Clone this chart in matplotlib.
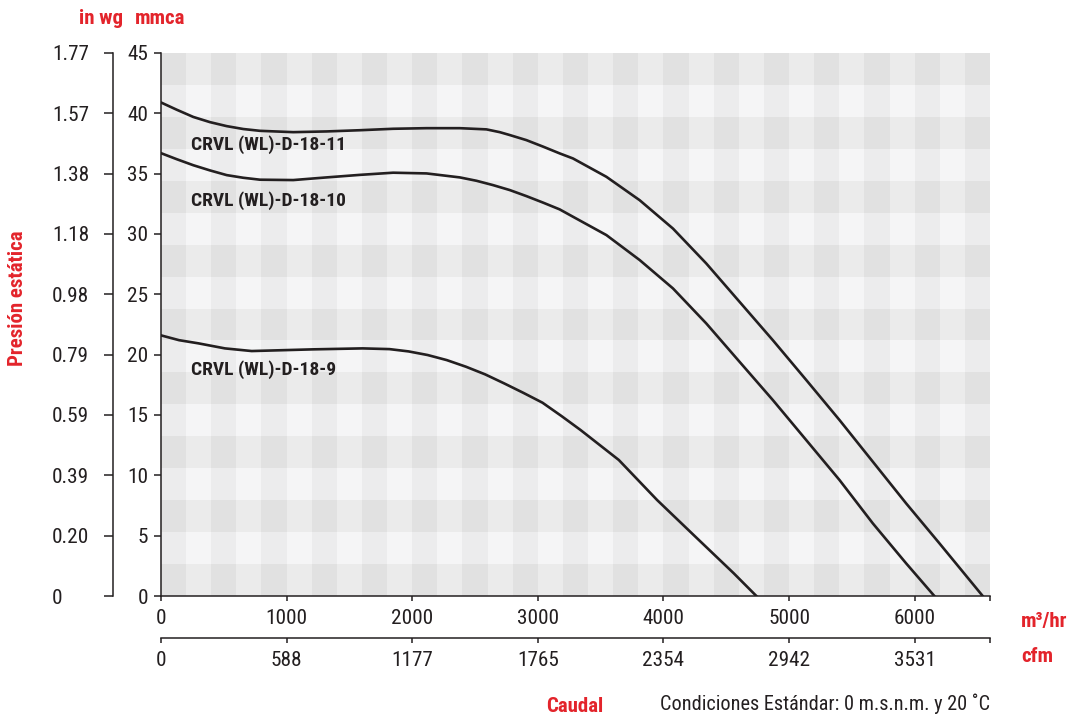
import numpy as np
import matplotlib
matplotlib.use("Agg")
import matplotlib.pyplot as plt
from matplotlib import font_manager as fm

# fuente estrecha si existe
fuentes = fm.fontManager.ttflist
nombres = {f.name for f in fuentes}
ESTIRA = 'normal'
K = 1.0
if 'Roboto Condensed' in nombres:
    FAM = 'Roboto Condensed'
elif 'Liberation Sans Narrow' in nombres:
    FAM = 'Liberation Sans Narrow'
elif any(f.name == 'DejaVu Sans' and f.stretch == 'condensed' for f in fuentes):
    FAM = 'DejaVu Sans'
    ESTIRA = 'condensed'
    K = 0.9
else:
    FAM = 'DejaVu Sans'
    K = 0.76
plt.rcParams['font.family'] = [FAM, 'DejaVu Sans']
plt.rcParams['font.stretch'] = ESTIRA

# caudal (m3/hr) y presion (mmca)
x_d18_11 = [0, 125, 257, 390, 523, 655, 788, 1053, 1318, 1583, 1848, 2114, 2379, 2591,
            2697, 2777, 2909, 3042, 3174, 3280, 3546, 3811, 4076, 4341, 4606, 4871,
            5137, 5402, 5667, 5932, 6197, 6542]
y_d18_11 = [40.9, 40.3, 39.7, 39.27, 38.94, 38.7, 38.55, 38.44, 38.5, 38.6, 38.72, 38.77,
            38.77, 38.67, 38.44, 38.2, 37.78, 37.24, 36.68, 36.26, 34.74, 32.8, 30.45,
            27.56, 24.38, 21.2, 17.9, 14.58, 11.13, 7.68, 4.37, 0]

x_d18_10 = [0, 125, 257, 390, 523, 655, 788, 1053, 1318, 1583, 1848, 2114, 2379, 2512,
            2644, 2777, 2909, 3042, 3174, 3280, 3546, 3811, 4076, 4341, 4606, 4871,
            5137, 5402, 5667, 5932, 6157]
y_d18_10 = [36.7, 36.2, 35.7, 35.27, 34.88, 34.66, 34.5, 34.47, 34.69, 34.9, 35.08, 35.02,
            34.69, 34.41, 34.05, 33.64, 33.14, 32.6, 32.04, 31.43, 29.91, 27.84, 25.49,
            22.59, 19.41, 16.24, 12.92, 9.61, 6.02, 2.71, 0]

x_d18_9 = [0, 144, 297, 509, 722, 1210, 1605, 1819, 1971, 2123, 2275, 2428, 2580, 2732,
           2884, 3037, 3189, 3341, 3493, 3645, 3950, 4255, 4560, 4740]
y_d18_9 = [21.6, 21.2, 20.94, 20.52, 20.3, 20.44, 20.52, 20.46, 20.27, 19.97, 19.55, 19.0,
           18.37, 17.62, 16.84, 16.02, 14.91, 13.75, 12.51, 11.27, 7.95, 4.91, 1.88, 0]

curvas = ["CRVL (WL)-D-18-11", "CRVL (WL)-D-18-10", "CRVL (WL)-D-18-9"]
pos_etiquetas = [(240, 37.4), (240, 32.8), (240, 18.8)]

mmca_ticks = [0, 5, 10, 15, 20, 25, 30, 35, 40, 45]
inwg_labels = ["0", "0.20", "0.39", "0.59", "0.79", "0.98", "1.18", "1.38", "1.57", "1.77"]
m3hr_ticks = [0, 1000, 2000, 3000, 4000, 5000, 6000]
cfm_labels = ["0", "588", "1177", "1765", "2354", "2942", "3531"]

ROJO = '#e3242b'
NEGRO = '#231f20'
XMAX = 6600
YMAX = 45
FS = 15.3 * K

W, H = 1068, 717
fig = plt.figure(figsize=(W / 100, H / 100), dpi=100)
ax = fig.add_axes([161 / W, 1 - 596 / H, (990 - 161) / W, (596 - 53) / H])

# fondo a cuadros
xe = np.linspace(0, XMAX, 34)
ye = np.linspace(0, YMAX, 18)
fila = (16 - np.arange(17))[:, None] % 2
col = np.arange(33)[None, :] % 2
tonos = np.array([[0xe1, 0xeb], [0xec, 0xf5]]) / 255.0
g = tonos[fila, col]
rgb = np.dstack([g, g, g + 0.003 * fila])
ax.pcolormesh(xe, ye, np.clip(rgb, 0, 1), shading='flat', zorder=0)

for xs, ys in [(x_d18_11, y_d18_11), (x_d18_10, y_d18_10), (x_d18_9, y_d18_9)]:
    ax.plot(xs, ys, color=NEGRO, lw=1.9, zorder=3, solid_joinstyle='round')

for nombre, (px, py) in zip(curvas, pos_etiquetas):
    ax.text(px, py, nombre, fontsize=14 * K, fontweight='bold', color=NEGRO,
            va='center', ha='left', zorder=4)

ax.set_xlim(0, XMAX)
ax.set_ylim(0, YMAX)
for s in ['top', 'right']:
    ax.spines[s].set_visible(False)
for s in ['left', 'bottom']:
    ax.spines[s].set_color(NEGRO)
    ax.spines[s].set_linewidth(1.1)
ax.set_yticks(mmca_ticks)
ax.set_xticks(m3hr_ticks + [XMAX])
ax.set_xticklabels([str(v) for v in m3hr_ticks] + [''])
ax.tick_params(axis='y', length=5, width=1.1, color=NEGRO, labelsize=FS,
               labelcolor=NEGRO, pad=4)
ax.tick_params(axis='x', length=3.6, width=1.1, color=NEGRO, labelsize=FS,
               labelcolor=NEGRO, pad=6)

# eje in wg
ay2 = ax.twinx()
ay2.set_ylim(0, YMAX)
ay2.yaxis.set_ticks_position('left')
ay2.spines['left'].set_position(('outward', 34.6))
for s in ['top', 'right', 'bottom']:
    ay2.spines[s].set_visible(False)
ay2.spines['left'].set_color(NEGRO)
ay2.spines['left'].set_linewidth(1.1)
ay2.set_yticks(mmca_ticks)
ay2.set_yticklabels(inwg_labels)
ay2.tick_params(axis='y', length=6.5, width=1.1, color=NEGRO, labelsize=FS,
                labelcolor=NEGRO, pad=37.4)
for t in ay2.get_yticklabels():
    t.set_horizontalalignment('left')

# eje cfm
ax2 = ax.twiny()
ax2.set_xlim(0, XMAX)
ax2.xaxis.set_ticks_position('bottom')
ax2.spines['bottom'].set_position(('outward', 30.2))
for s in ['top', 'right', 'left']:
    ax2.spines[s].set_visible(False)
ax2.spines['bottom'].set_color(NEGRO)
ax2.spines['bottom'].set_linewidth(1.1)
ax2.set_xticks(m3hr_ticks + [XMAX])
ax2.set_xticklabels(cfm_labels + [''])
ax2.tick_params(axis='x', length=3.6, width=1.1, color=NEGRO, labelsize=FS,
                labelcolor=NEGRO, pad=6)

# textos
def ftext(x, y, s, **kw):
    fig.text(x / W, 1 - y / H, s, **kw)

ftext(123, 18, "in wg", color=ROJO, fontsize=15 * K, fontweight='bold', va='center', ha='right')
ftext(135, 18, "mmca", color=ROJO, fontsize=15 * K, fontweight='bold', va='center')
ftext(18, 298, "Presión estática", color=ROJO, fontsize=15 * K, fontweight='bold',
      va='center', ha='center', rotation=90)
ftext(1021, 622, "m³/hr", color=ROJO, fontsize=15 * K, fontweight='bold', va='center')
ftext(1021, 656, "cfm", color=ROJO, fontsize=15 * K, fontweight='bold', va='center')
ftext(603, 706, "Caudal", color=ROJO, fontsize=15 * K, fontweight='bold', va='center', ha='right')
ftext(990, 704, "Condiciones Estándar: 0 m.s.n.m. y 20 ˚C", color=NEGRO,
      fontsize=14.6 * K, va='center', ha='right')

fig.savefig("out.png", dpi=100)
